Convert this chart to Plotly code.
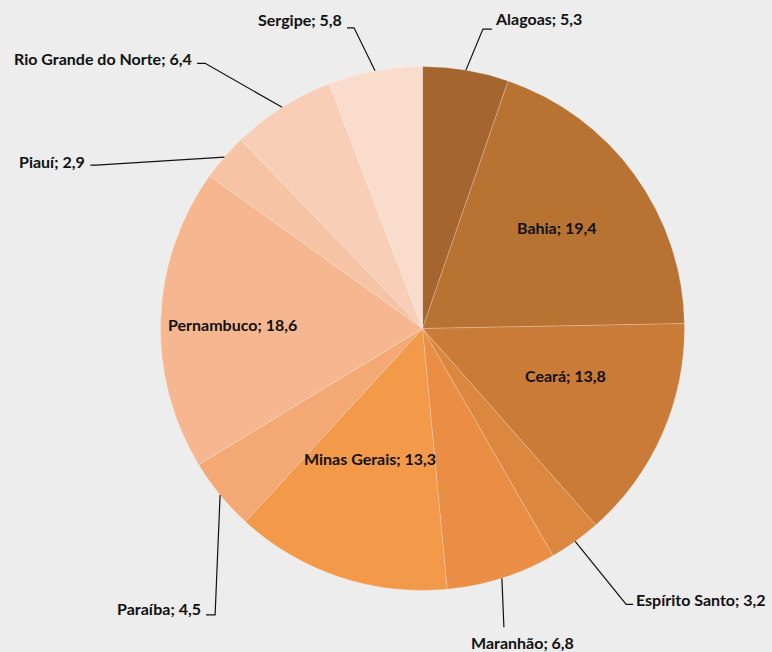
import math
import plotly.graph_objects as go

# ---- data ----
states = ["Alagoas", "Bahia", "Ceará", "Espírito Santo", "Maranhão", "Minas Gerais",
          "Paraíba", "Pernambuco", "Piauí", "Rio Grande do Norte", "Sergipe"]
values = [5.3, 19.4, 13.8, 3.2, 6.8, 13.3, 4.5, 18.6, 2.9, 6.4, 5.8]
colors = ["#A5652E", "#B87333", "#CB7B38", "#DB873F", "#E98E44", "#F29A4A",
          "#F4A873", "#F6B790", "#F6C3A5", "#F8CEB6", "#FADCCD"]

# ---- layout constants (pixels) ----
W, H = 772, 652
CX, CY, R = 422.5, 328.5, 262
BG = "#ECEDEC"
FONT = dict(family="Lato, 'DejaVu Sans', sans-serif", size=16, color="#111111")

# inside labels: radial fraction + pixel nudge
inside = {
    "Bahia": (0.62, 3.5, -5.5),
    "Ceará": (0.58, 3.5, -14),
    "Minas Gerais": (0.55, -6.5, -6.5),
    "Pernambuco": (0.73, 1, 3.5),
}
# outside labels: elbow offset from slice edge, tail length, text anchor, text dy
outside = {
    "Alagoas": (17, -41, 9, "left", -11),
    "Sergipe": (-21, -43, -7, "right", -8),
    "Rio Grande do Norte": (-77, -44, -8, "right", -5),
    "Piauí": (-128, 8, -6, "right", -4),
    "Paraíba": (-5, 120, -9, "right", -6),
    "Espírito Santo": (51, 63, 7, "left", -5),
    "Maranhão": (2, 49, 0, "below", 15),
}


def px(x):
    return x / W


def py(y):
    return 1 - y / H


def fmt(v):
    return f"{v:.1f}".replace(".", ",")


fig = go.Figure(go.Pie(
    labels=states, values=values, sort=False, direction="clockwise", rotation=0,
    marker=dict(colors=colors, line=dict(color="rgba(255,255,255,0.35)", width=0.6)),
    textinfo="none", hoverinfo="skip", showlegend=False,
    domain=dict(x=[px(CX - R), px(CX + R)], y=[py(CY + R), py(CY - R)]),
))

total = sum(values)
cum = 0.0
annotations, shapes = [], []
for name, v in zip(states, values):
    mid = (cum + v / 2) / total * 2 * math.pi
    cum += v
    s, c = math.sin(mid), math.cos(mid)
    text = f"<b>{name}; {fmt(v)}</b>"
    if name in inside:
        f, nx, ny = inside[name]
        x, y = CX + f * R * s + nx, CY - f * R * c + ny
        annotations.append(dict(x=px(x), y=py(y), xref="paper", yref="paper", text=text,
                                showarrow=False, font=FONT, xanchor="center", yanchor="middle"))
    else:
        dx, dy, tail, side, tdy = outside[name]
        x0, y0 = CX + R * s, CY - R * c
        x1, y1 = x0 + dx, y0 + dy
        x2 = x1 + tail
        shapes.append(dict(type="path", xref="paper", yref="paper",
                           path=f"M {px(x0)},{py(y0)} L {px(x1)},{py(y1)} L {px(x2)},{py(y1)}",
                           line=dict(color="#111111", width=1.2)))
        if side == "left":
            annotations.append(dict(x=px(x2 + 1), y=py(y1 + tdy), xanchor="left", yanchor="middle"))
        elif side == "right":
            annotations.append(dict(x=px(x2 - 3), y=py(y1 + tdy), xanchor="right", yanchor="middle"))
        else:
            annotations.append(dict(x=px(x2 + 19), y=py(y1 + tdy), xanchor="center", yanchor="middle"))
        annotations[-1].update(xref="paper", yref="paper", text=text, showarrow=False, font=FONT)

fig.update_layout(
    width=W, height=H, margin=dict(l=0, r=0, t=0, b=0),
    paper_bgcolor=BG, plot_bgcolor=BG,
    annotations=annotations, shapes=shapes,
)
fig.write_html("out.html", config={"displayModeBar": False},
               post_script="document.body.style.margin='0';document.body.style.overflow='hidden';")
